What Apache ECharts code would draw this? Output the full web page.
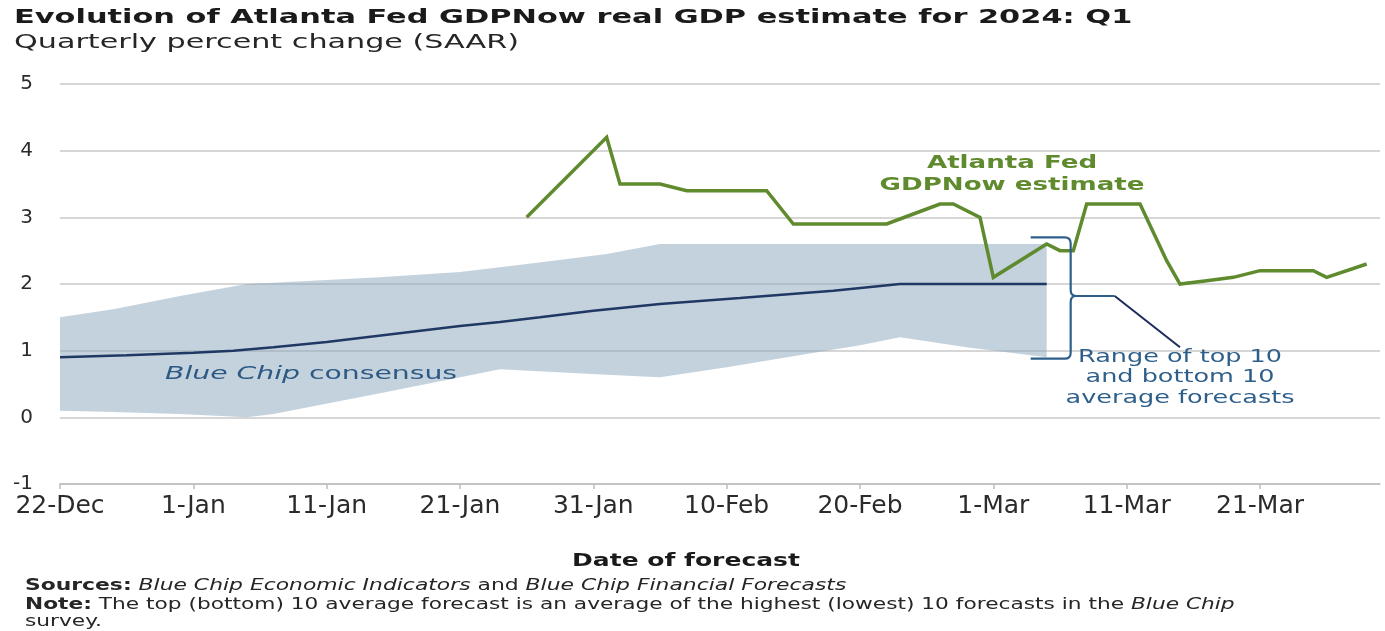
<!DOCTYPE html>
<html><head><meta charset="utf-8">
<script src="https://cdn.jsdelivr.net/npm/echarts@6/dist/echarts.min.js"></script>
<style>html,body{margin:0;padding:0;background:#fff}#c{width:1385px;height:631px}</style>
</head><body><div id="c"></div>
<script>
// ---------- data ----------
const startDate = '2023-12-22';
const tickDates = ['2023-12-22','2024-01-01','2024-01-11','2024-01-21','2024-01-31','2024-02-10','2024-02-20','2024-03-01','2024-03-11','2024-03-21'];
const tickLabels = ['22-Dec','1-Jan','11-Jan','21-Jan','31-Jan','10-Feb','20-Feb','1-Mar','11-Mar','21-Mar'];
const yTicks = [-1, 0, 1, 2, 3, 4, 5];

const gdpNowDates = ['2024-01-26','2024-02-01','2024-02-02','2024-02-05','2024-02-07','2024-02-13','2024-02-15','2024-02-22','2024-02-24','2024-02-26','2024-02-27','2024-02-29','2024-03-01','2024-03-05','2024-03-06','2024-03-07','2024-03-08','2024-03-12','2024-03-14','2024-03-15','2024-03-17','2024-03-19','2024-03-21','2024-03-25','2024-03-26','2024-03-29'];
const gdpNowValues = [3.0, 4.2, 3.5, 3.5, 3.4, 3.4, 2.9, 2.9, 3.05, 3.2, 3.2, 3.0, 2.1, 2.6, 2.5, 2.5, 3.2, 3.2, 2.35, 2.0, 2.05, 2.1, 2.2, 2.2, 2.1, 2.3];

const consensusDates = ['2023-12-22','2023-12-27','2024-01-01','2024-01-04','2024-01-07','2024-01-11','2024-01-16','2024-01-21','2024-01-24','2024-01-27','2024-01-31','2024-02-05','2024-02-11','2024-02-18','2024-02-23','2024-03-05'];
const consensusValues = [0.9, 0.93, 0.97, 1.0, 1.05, 1.13, 1.25, 1.37, 1.43, 1.5, 1.6, 1.7, 1.79, 1.9, 2.0, 2.0];

const bandDates = ['2023-12-22','2023-12-26','2023-12-31','2024-01-05','2024-01-07','2024-01-15','2024-01-21','2024-01-24','2024-01-28','2024-02-01','2024-02-05','2024-02-10','2024-02-16','2024-02-20','2024-02-23','2024-02-28','2024-03-05'];
const bandUpper = [1.5, 1.62, 1.82, 2.0, 2.02, 2.1, 2.18, 2.25, 2.35, 2.45, 2.6, 2.6, 2.6, 2.6, 2.6, 2.6, 2.6];
const bandLower = [0.1, 0.08, 0.05, 0.0, 0.05, 0.36, 0.6, 0.72, 0.68, 0.64, 0.6, 0.75, 0.95, 1.08, 1.2, 1.05, 0.9];

// bracket annotation anchors (days from start, value)
const bracketLeftDay = 72.8, bracketSpineDay = 75.8, bracketTipDay = 76.2;
const bracketTop = 2.7, bracketBottom = 0.88, bracketMid = 1.82;
const leaderElbow = [79.1, 1.82], leaderEnd = [84.0, 1.05];

// ---------- helpers ----------
function dayOf(s) {
  const p = s.split('-').map(Number), q = startDate.split('-').map(Number);
  return Math.round((Date.UTC(p[0], p[1]-1, p[2]) - Date.UTC(q[0], q[1]-1, q[2])) / 86400000);
}
const tickDays = tickDates.map(dayOf);
const labelByDay = {}; tickDays.forEach((d, i) => labelByDay[d] = tickLabels[i]);

const FONT = 'DejaVu Sans';
const GREEN = '#5f8b2e', NAVY = '#1f3864', BLUE_TXT = '#2e5f8a';

const bandDays = bandDates.map(dayOf);
const bandRows = bandDays.map((d, i) => [d, bandLower[i], bandUpper[i]]);

function txt(x, y, text, o) {
  o = o || {};
  return {
    type: 'text', x: x, y: y, scaleX: o.sx || 1.45, silent: true, z: 100,
    style: {
      text: text, fontFamily: FONT, fontSize: o.size || 18, fontWeight: o.weight || 'normal',
      fill: o.fill || '#222', align: o.align || 'left', verticalAlign: 'middle', rich: o.rich
    }
  };
}
function richSet(size) {
  return { b: { fontWeight: 'bold', fontSize: size, fontFamily: FONT }, i: { fontStyle: 'italic', fontSize: size, fontFamily: FONT } };
}

const chart = echarts.init(document.getElementById('c'));
chart.setOption({
  animation: false,
  backgroundColor: '#fff',
  grid: { left: 60, right: 5, top: 84, bottom: 147 },
  xAxis: {
    type: 'value', min: 0, max: 99,
    axisLine: { show: true, onZero: false, lineStyle: { color: '#bdbdbd', width: 1.5 } },
    axisTick: { show: true, length: 5, customValues: tickDays, lineStyle: { color: '#bdbdbd', width: 1.5 } },
    axisLabel: { customValues: tickDays, formatter: v => labelByDay[v] || '', color: '#2b2b2b', fontFamily: FONT, fontSize: 25, margin: 10 },
    splitLine: { show: false }
  },
  yAxis: {
    type: 'value', min: yTicks[0], max: yTicks[yTicks.length-1], interval: 1,
    axisLine: { show: false }, axisTick: { show: false },
    axisLabel: { color: '#2b2b2b', fontFamily: FONT, fontSize: 20, margin: 27 },
    splitLine: { lineStyle: { color: '#c8c8c8', width: 1.5 } }
  },
  series: [
    { type: 'custom', name: 'Top/bottom 10 range', silent: true, z: 2, data: bandRows,
      encode: { x: 0, y: [1, 2] },
      renderItem: function (params, api) {
        if (params.dataIndex !== 0) return null;
        const top = bandRows.map(r => api.coord([r[0], r[2]]));
        const bot = bandRows.map(r => api.coord([r[0], r[1]])).reverse();
        return { type: 'polygon', shape: { points: top.concat(bot) },
          style: { fill: 'rgba(138,166,187,0.5)', stroke: null } };
      }
    },
    { type: 'line', name: 'Blue Chip consensus', data: consensusDates.map((d, i) => [dayOf(d), consensusValues[i]]),
      symbol: 'none', lineStyle: { color: NAVY, width: 2.5 }, z: 3 },
    { type: 'line', name: 'Atlanta Fed GDPNow estimate', data: gdpNowDates.map((d, i) => [dayOf(d), gdpNowValues[i]]),
      symbol: 'none', lineStyle: { color: GREEN, width: 3.5, join: 'miter' }, z: 4 },
    { type: 'custom', silent: true, z: 5, data: [[bracketSpineDay, bracketMid]],
      renderItem: function (params, api) {
        const pl = api.coord([bracketLeftDay, bracketTop]);
        const ps = api.coord([bracketSpineDay, bracketMid]);
        const pt = api.coord([bracketTipDay, bracketMid]);
        const pb = api.coord([bracketLeftDay, bracketBottom]);
        const pe = api.coord(leaderElbow), pn = api.coord(leaderEnd);
        const xl = pl[0], xs = ps[0], xt = pt[0], yt = pl[1], yb = pb[1], ym = ps[1], r = 6;
        const d = 'M' + xl + ' ' + yt + ' L' + (xs - r) + ' ' + yt +
          ' Q' + xs + ' ' + yt + ' ' + xs + ' ' + (yt + r) +
          ' L' + xs + ' ' + (ym - r) + ' Q' + xs + ' ' + ym + ' ' + xt + ' ' + ym +
          ' Q' + xs + ' ' + ym + ' ' + xs + ' ' + (ym + r) +
          ' L' + xs + ' ' + (yb - r) + ' Q' + xs + ' ' + yb + ' ' + (xs - r) + ' ' + yb +
          ' L' + xl + ' ' + yb;
        return { type: 'group', children: [
          { type: 'path', shape: { pathData: d }, style: { stroke: '#2e5f8a', fill: null, lineWidth: 2.2 } },
          { type: 'line', shape: { x1: xt, y1: ym, x2: pe[0], y2: pe[1] }, style: { stroke: '#2e5f8a', lineWidth: 2 } },
          { type: 'line', shape: { x1: pe[0], y1: pe[1], x2: pn[0], y2: pn[1] }, style: { stroke: '#1d2b5a', lineWidth: 2 } }
        ]};
      }
    }
  ],
  graphic: [
    txt(14, 18, 'Evolution of Atlanta Fed GDPNow real GDP estimate for 2024: Q1', { size: 20, weight: 'bold', fill: '#1a1a1a', sx: 1.52 }),
    txt(14, 43, 'Quarterly percent change (SAAR)', { size: 20, fill: '#262626', sx: 1.51 }),
    txt(686, 562, 'Date of forecast', { size: 17, weight: 'bold', fill: '#1a1a1a', align: 'center', sx: 1.47 }),
    txt(25, 586, '{b|Sources:} {i|Blue Chip Economic Indicators} and {i|Blue Chip Financial Forecasts}',
      { size: 15.5, fill: '#262626', sx: 1.41, rich: richSet(15.5) }),
    txt(25, 605, '{b|Note:} The top (bottom) 10 average forecast is an average of the highest (lowest) 10 forecasts in the {i|Blue Chip}',
      { size: 15.5, fill: '#262626', sx: 1.40, rich: richSet(15.5) }),
    txt(25, 622, 'survey.', { size: 15.5, fill: '#262626', sx: 1.40 }),
    txt(1012, 163, 'Atlanta Fed', { size: 18, weight: 'bold', fill: GREEN, align: 'center', sx: 1.45 }),
    txt(1012, 185, 'GDPNow estimate', { size: 18, weight: 'bold', fill: GREEN, align: 'center', sx: 1.45 }),
    txt(165, 374, '{i|Blue Chip} consensus', { size: 18, fill: '#2d5a85', sx: 1.57, rich: richSet(18) }),
    txt(1180, 358, 'Range of top 10', { size: 17, fill: BLUE_TXT, align: 'center', sx: 1.5 }),
    txt(1180, 378, 'and bottom 10', { size: 17, fill: BLUE_TXT, align: 'center', sx: 1.5 }),
    txt(1180, 399, 'average forecasts', { size: 17, fill: BLUE_TXT, align: 'center', sx: 1.5 })
  ]
});
</script>
</body></html>
